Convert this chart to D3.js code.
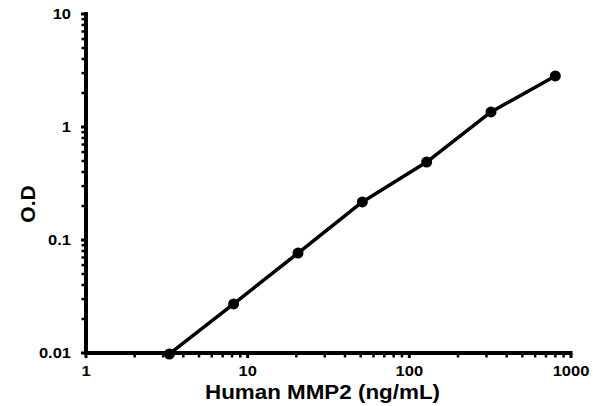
<!DOCTYPE html>
<html>
<head>
<meta charset="utf-8">
<script src="https://cdn.jsdelivr.net/npm/d3@7"></script>
<style>
  body { margin: 0; background: #fff; }
  text { font-family: "Liberation Sans", Arial, sans-serif; font-weight: bold; fill: #000; }
</style>
</head>
<body>
<svg id="chart" width="593" height="406"></svg>
<script>
// concentration (ng/mL) and O.D
let conc = [3.28, 8.19, 20.48, 51.2, 128, 320, 800];
let od = [0.0098, 0.0272, 0.0767, 0.217, 0.49, 1.36, 2.83];
let xTicks = [1, 10, 100, 1000];
let yTicks = [0.01, 0.1, 1, 10];
let yTickLabels = ["0.01", "0.1", "1", "10"];

const svg = d3.select("#chart");
const plotLeft = 86, plotRight = 571, plotTop = 14, plotBottom = 353;
const stretch = 1.1; // the picture's text is a bit wide

const x = d3.scaleLog().domain([1, 1000]).range([plotLeft, plotRight]);
const y = d3.scaleLog().domain([0.01, 10]).range([plotBottom, plotTop]);

// minor ticks
function minors(domain) {
  let out = [];
  for (let d = domain[0]; d < domain[1]; d *= 10) {
    for (let k = 2; k <= 9; k++) out.push(d * k);
  }
  return out;
}

const xAxis = svg.append("g").attr("transform", "translate(0," + plotBottom + ")");
xAxis.selectAll("line.minor")
  .data(minors([1, 1000]))
  .enter().append("line")
  .attr("x1", d => x(d)).attr("x2", d => x(d))
  .attr("y1", 0).attr("y2", 4.5)
  .style("stroke", "#000").style("stroke-width", 2.5);
xAxis.selectAll("line.major")
  .data(xTicks)
  .enter().append("line")
  .attr("x1", d => x(d)).attr("x2", d => x(d))
  .attr("y1", 0).attr("y2", 5)
  .style("stroke", "#000").style("stroke-width", 3);
xAxis.append("line")
  .attr("x1", plotLeft - 2).attr("x2", plotRight + 1.5)
  .attr("y1", 0).attr("y2", 0)
  .style("stroke", "#000").style("stroke-width", 4);
xAxis.selectAll("text")
  .data(xTicks)
  .enter().append("text")
  .attr("transform", d => "translate(" + x(d) + ",23) scale(" + stretch + ",1)")
  .attr("text-anchor", "middle")
  .style("font-size", "15px")
  .text(d => d);

const yAxis = svg.append("g").attr("transform", "translate(" + plotLeft + ",0)");
yAxis.selectAll("line.minor")
  .data(minors([0.01, 10]))
  .enter().append("line")
  .attr("y1", d => y(d)).attr("y2", d => y(d))
  .attr("x1", 0).attr("x2", -4.5)
  .style("stroke", "#000").style("stroke-width", 2.5);
yAxis.selectAll("line.major")
  .data(yTicks)
  .enter().append("line")
  .attr("y1", d => y(d)).attr("y2", d => y(d))
  .attr("x1", 0).attr("x2", -5)
  .style("stroke", "#000").style("stroke-width", 3);
yAxis.append("line")
  .attr("x1", 0).attr("x2", 0)
  .attr("y1", plotTop - 2).attr("y2", plotBottom + 2)
  .style("stroke", "#000").style("stroke-width", 4);
yAxis.selectAll("text")
  .data(yTicks)
  .enter().append("text")
  .attr("transform", d => "translate(-15," + (y(d) + 5) + ") scale(" + stretch + ",1)")
  .attr("text-anchor", "end")
  .style("font-size", "15px")
  .text((d, i) => yTickLabels[i]);

// titles
svg.append("text")
  .attr("transform", "translate(" + ((plotLeft + plotRight) / 2 - 6) + ",399) scale(1.12,1)")
  .attr("text-anchor", "middle")
  .style("font-size", "20px")
  .text("Human MMP2 (ng/mL)");
svg.append("text")
  .attr("transform", "translate(35,204) rotate(-90)")
  .attr("text-anchor", "middle")
  .style("font-size", "21px")
  .text("O.D");

// data
const pts = conc.map((c, i) => ({ c: c, v: od[i] }));
svg.append("path")
  .datum(pts)
  .attr("d", d3.line().x(d => x(d.c)).y(d => y(d.v)))
  .style("fill", "none")
  .style("stroke", "#000")
  .style("stroke-width", 3.5)
  .style("stroke-linejoin", "round");
svg.append("g")
  .selectAll("circle")
  .data(pts)
  .enter().append("circle")
  .attr("cx", d => x(d.c))
  .attr("cy", d => y(d.v))
  .attr("r", 5.5)
  .style("fill", "#000");
</script>
</body>
</html>
